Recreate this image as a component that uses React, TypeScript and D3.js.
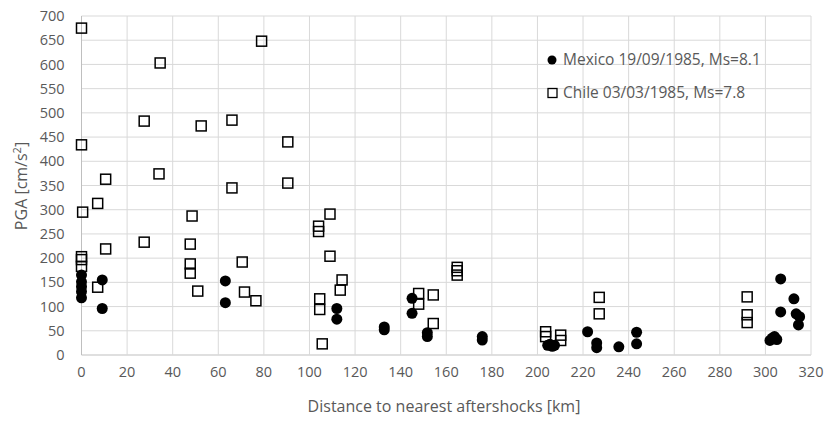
import React from "react";
import * as d3 from "d3";

const xTicks = [0, 20, 40, 60, 80, 100, 120, 140, 160, 180, 200, 220, 240, 260, 280, 300, 320];
const yTicks = [0, 50, 100, 150, 200, 250, 300, 350, 400, 450, 500, 550, 600, 650, 700];

const mexicoLabel = "Mexico 19/09/1985, Ms=8.1";
const chileLabel = "Chile 03/03/1985, Ms=7.8";

const mexicoX = [0, 0, 0, 0, 0, 9.1, 9.1, 63.1, 63.1, 112, 112, 132.8, 132.8, 145, 145, 151.7, 151.7,
  175.8, 175.8, 204.5, 205.5, 206.5, 207.5, 222, 226, 226, 235.7, 243.5, 243.5,
  306.7, 312.5, 306.7, 313.5, 315, 314.5, 302, 303, 304, 305];
const mexicoY = [165, 151, 141, 131, 118, 155, 96, 153, 108, 96, 74, 58, 52, 117, 86, 46, 38,
  38, 31, 20, 22, 18, 20, 48, 25, 15, 17, 47, 23,
  157, 116, 89, 85, 79, 62, 30, 35, 38, 32];

const chileX = [0, 0, 0.5, 0, 0, 0, 7.1, 10.6, 10.6, 7.1, 27.5, 27.5, 34.5, 34, 48.5, 47.7, 47.7, 47.7,
  51, 52.5, 66, 66, 70.5, 71.5, 76.5, 79, 90.5, 90.5, 104, 104, 109, 109, 104.5, 104.5, 105.6,
  114.3, 113.5, 147.9, 147.9, 154.3, 154.3, 164.8, 164.8, 164.8, 203.6, 203.6, 210.2, 210.2,
  227.1, 227.1, 292, 292, 292];
const chileY = [675, 434, 295, 203, 197, 183, 313, 363, 219, 140, 233, 483, 603, 374, 287, 229, 188, 169,
  132, 473, 485, 345, 192, 130, 112, 648, 440, 355, 266, 255, 291, 204, 116, 94, 23,
  155, 134, 127, 105, 124, 65, 181, 174, 165, 48, 38, 41, 30,
  119, 85, 120, 83, 67];

const W = 826;
const H = 421;
const left = 81.5;
const right = 811;
const top = 16;
const bottom = 355;
const textColor = "#595959";
const font = "'Open Sans', 'Liberation Sans', Arial, sans-serif";

export default function App() {
  const x = d3.scaleLinear().domain([0, 320]).range([left, right]);
  const y = d3.scaleLinear().domain([0, 700]).range([bottom, top]);
  const sq = 10;

  return (
    <svg width={W} height={H} style={{ position: "absolute", left: 0, top: 0, background: "#fff" }} fontFamily={font}>
      {yTicks.map((t) => (
        <line key={"gy" + t} x1={left} x2={right} y1={y(t)} y2={y(t)} stroke={t === 0 ? "#bfbfbf" : "#d9d9d9"} strokeWidth={1} />
      ))}
      {xTicks.map((t) => (
        <line key={"gx" + t} x1={x(t)} x2={x(t)} y1={top} y2={bottom} stroke={t === 0 ? "#bfbfbf" : "#d9d9d9"} strokeWidth={1} />
      ))}
      {yTicks.map((t) => (
        <text key={"ty" + t} x={left - 17} y={y(t)} dy="0.35em" textAnchor="end" fontSize={14.5} fill={textColor}>
          {t}
        </text>
      ))}
      {xTicks.map((t) => (
        <text key={"tx" + t} x={x(t)} y={bottom + 17} dy="0.35em" textAnchor="middle" fontSize={14.5} fill={textColor}>
          {t}
        </text>
      ))}
      <text x={444} y={406} dy="0.35em" textAnchor="middle" fontSize={16} fill={textColor}>
        Distance to nearest aftershocks [km]
      </text>
      <text transform={`translate(21,186) rotate(-90)`} dy="0.35em" textAnchor="middle" fontSize={16} fill={textColor}>
        PGA [cm/s<tspan dy="-6" fontSize={11}>2</tspan><tspan dy="6">]</tspan>
      </text>
      {chileX.map((v, i) => (
        <rect key={"c" + i} x={x(v) - sq / 2} y={y(chileY[i]) - sq / 2} width={sq} height={sq} fill="#fff" fillOpacity={0} stroke="#000" strokeWidth={1.5} />
      ))}
      {mexicoX.map((v, i) => (
        <circle key={"m" + i} cx={x(v)} cy={y(mexicoY[i])} r={5.5} fill="#000" />
      ))}
      <circle cx={552} cy={60} r={4.5} fill="#000" />
      <text x={563} y={60} dy="0.35em" fontSize={15.5} fill={textColor}>{mexicoLabel}</text>
      <rect x={548} y={88.5} width={9} height={9} fill="none" stroke="#000" strokeWidth={1.3} />
      <text x={563} y={92.5} dy="0.35em" fontSize={15.5} fill={textColor}>{chileLabel}</text>
    </svg>
  );
}
